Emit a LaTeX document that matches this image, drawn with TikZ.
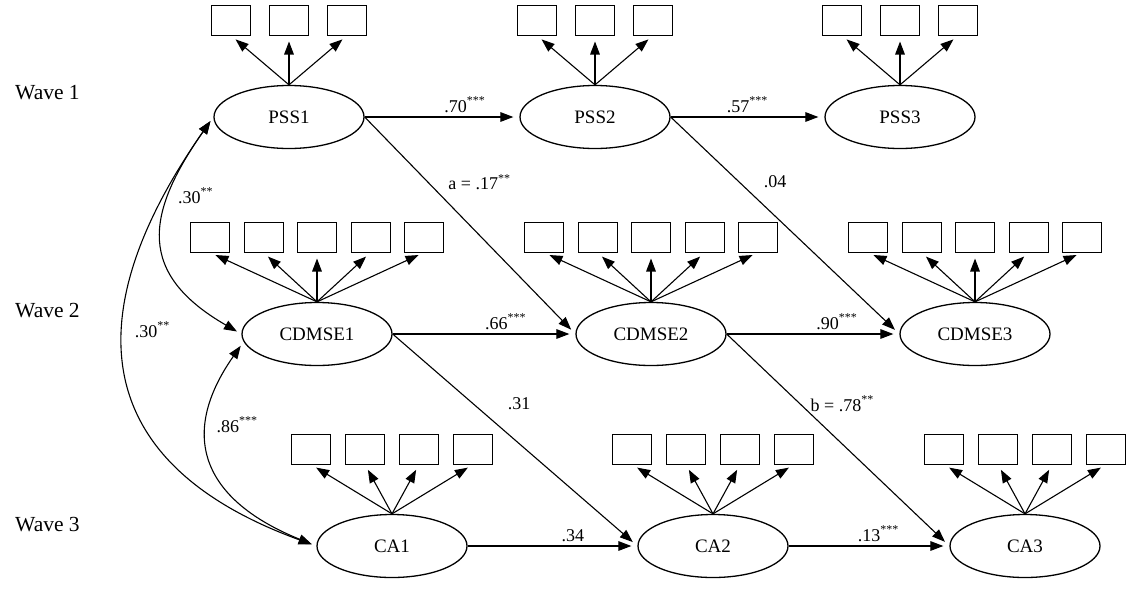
\documentclass[tikz,border=0pt]{standalone}
\usepackage{fontspec}
\setmainfont{Liberation Serif}
\usetikzlibrary{shapes.geometric, positioning, arrows.meta}
\tikzset{
    ->, % every connector is directed
    >={Triangle[length=6.5pt, width=4.8pt]}, % filled heads
    latent/.style={ellipse, draw, line width=0.65pt, minimum width=75pt, minimum height=31.5pt, inner sep=0pt, font=\fontsize{9.5}{11}\selectfont}, % factors
    indicator/.style={draw, line width=0.5pt, minimum width=19.5pt, minimum height=15pt, inner sep=0pt}, % items
}

\begin{document}
\begin{tikzpicture}[
        x=0.5pt, y=-0.5pt, % one unit = one pixel, y downwards
        line width=0.55pt,
        reg/.style={shorten >=3pt},
        cov/.style={<->, shorten <=2.5pt, shorten >=2.5pt},
        coef/.style={font=\fontsize{9}{10}\selectfont, inner sep=2pt},
        wave/.style={anchor=west, font=\fontsize{10.75}{12}\selectfont},
    ]
    \useasboundingbox (0,0) rectangle (1138,589);
    \node[wave] (w1) at (8,93) {Wave 1};
    \node[wave] (w2) at (8,311) {Wave 2};
    \node[wave] (w3) at (8,525) {Wave 3};
    \node[latent] (PSS1) at (289,117) {PSS1};
    \node[latent] (PSS2) at (595,117) {PSS2};
    \node[latent] (PSS3) at (900,117) {PSS3};
    \node[latent] (CDMSE1) at (317,334) {CDMSE1};
    \node[latent] (CDMSE2) at (651,334) {CDMSE2};
    \node[latent] (CDMSE3) at (975,334) {CDMSE3};
    \node[latent] (CA1) at (392,546) {CA1};
    \node[latent] (CA2) at (713,546) {CA2};
    \node[latent] (CA3) at (1025,546) {CA3};
    % items above each factor
    \foreach \lv in {PSS1,PSS2,PSS3}
        \foreach \dx [count=\k] in {-58,0,58} {
            \node[indicator] (\lv-\k) at ([shift={(\dx,-97)}]\lv.center) {};
            \draw[reg] (\lv.north) -- (\lv-\k.south);
        }
    \foreach \lv in {CDMSE1,CDMSE2,CDMSE3}
        \foreach \dx [count=\k] in {-107,-53.5,0,53.5,107} {
            \node[indicator] (\lv-\k) at ([shift={(\dx,-97)}]\lv.center) {};
            \draw[reg] (\lv.north) -- (\lv-\k.south);
        }
    \foreach \lv in {CA1,CA2,CA3}
        \foreach \dx [count=\k] in {-81,-27,27,81} {
            \node[indicator] (\lv-\k) at ([shift={(\dx,-97)}]\lv.center) {};
            \draw[reg] (\lv.north) -- (\lv-\k.south);
        }
    \path
    (PSS1.east) edge[reg] node[coef, above, pos=0.65] {.70\textsuperscript{***}} (PSS2.west)
    (PSS2.east) edge[reg] node[coef, above, pos=0.5] {.57\textsuperscript{***}} (PSS3.west)
    (CDMSE1.east) edge[reg] node[coef, above, pos=0.62] {.66\textsuperscript{***}} (CDMSE2.west)
    (CDMSE2.east) edge[reg] node[coef, above, pos=0.64] {.90\textsuperscript{***}} (CDMSE3.west)
    (CA1.east) edge[reg] node[coef, above, pos=0.62] {.34} (CA2.west)
    (CA2.east) edge[reg] node[coef, above, pos=0.56] {.13\textsuperscript{***}} (CA3.west)
    (PSS1.east) edge[reg] node[coef, pos=0.3, right=8pt] {a = .17\textsuperscript{**}} (CDMSE2.west)
    (PSS2.east) edge[reg] node[coef, pos=0.3, right=10pt] {.04} (CDMSE3.west)
    (CDMSE1.east) edge[reg] node[coef, pos=0.33, right=15pt] {.31} (CA2.west)
    (CDMSE2.east) edge[reg] node[coef, pos=0.33, right=3pt] {b = .78\textsuperscript{**}} (CA3.west);
    % correlations between the wave 1 factors
    \draw[cov] (PSS1.west) to[out=235, in=150, looseness=1.4] node[coef, pos=0.3, right=2pt] {.30\textsuperscript{**}} (CDMSE1.west);
    \draw[cov] (PSS1.west) to[out=235, in=160, looseness=1.4] node[coef, pos=0.4, right=3pt] {.30\textsuperscript{**}} (CA1.west);
    \draw[cov] (CDMSE1.186) to[out=235, in=158, looseness=1.4] node[coef, pos=0.32, right=2pt] {.86\textsuperscript{***}} (CA1.west);
\end{tikzpicture}
\end{document}
